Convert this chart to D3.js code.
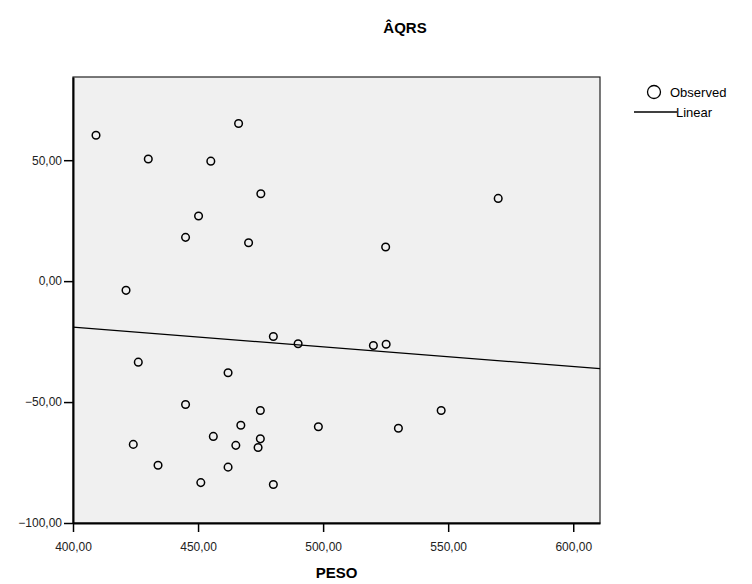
<!DOCTYPE html>
<html>
<head>
<meta charset="utf-8">
<script src="https://cdn.jsdelivr.net/npm/d3@7"></script>
<style>
  body { margin: 0; background: #fff; }
  text { font-family: "Liberation Sans", Arial, sans-serif; }
</style>
</head>
<body>
<div id="chart"></div>
<script>
"use strict";
let peso = [409.2, 466.2, 430.1, 455.1, 475.1, 450.2, 445.0, 470.2, 421.2,
    480.1, 490.0, 426.1, 462.0, 445.0, 474.9, 467.1, 498.1, 456.1, 474.9,
    424.1, 465.1, 474.0, 434.0, 462.0, 451.1, 480.1,
    570.0, 525.0, 520.1, 525.2, 547.2, 530.1];
let aqrs = [60.3, 65.2, 50.5, 49.6, 36.1, 26.9, 18.1, 15.9, -3.8,
    -22.9, -25.9, -33.5, -37.9, -51.0, -53.5, -59.6, -60.2, -64.2, -65.2,
    -67.5, -67.9, -68.8, -76.1, -76.9, -83.3, -84.1,
    34.2, 14.1, -26.6, -26.1, -53.5, -60.8];

// Linear fit endpoints
let fitX = [400, 610.7];
let fitY = [-19.0, -36.2];

let xTicks = [400, 450, 500, 550, 600];
let yTicks = [-100, -50, 0, 50];

let margin = { top: 77, right: 152, bottom: 61, left: 73 },
    width = 752 - margin.left - margin.right,
    height = 584 - margin.top - margin.bottom;

let svg = d3.select("#chart").append("svg")
    .attr("width", 752)
    .attr("height", 584);

let fmt = d => d3.format(".2f")(d).replace(".", ",");

let x = d3.scaleLinear().domain([400, 610.7]).range([0, width]);
let y = d3.scaleLinear().domain([-100, 84.4]).range([height, 0]);

// Title
svg.append("text")
    .attr("x", 405)
    .attr("y", 33)
    .attr("text-anchor", "middle")
    .style("font-weight", "bold")
    .style("font-size", "15px")
    .text("ÂQRS");

let g = svg.append("g")
    .attr("transform", "translate(" + margin.left + "," + margin.top + ")");

// plot background + frame
g.append("rect")
    .attr("width", width)
    .attr("height", height)
    .style("fill", "#f0f0f0")
    .style("stroke", "#222")
    .style("stroke-width", 1.2);

// Axes
let xAxis = g.append("g")
    .attr("transform", "translate(0," + height + ")")
    .call(d3.axisBottom(x).tickValues(xTicks).tickFormat(fmt).tickSize(9).tickSizeOuter(0));
let yAxis = g.append("g")
    .call(d3.axisLeft(y).tickValues(yTicks).tickFormat(fmt).tickSize(9).tickSizeOuter(0));

[xAxis, yAxis].forEach(a => {
    a.select(".domain").style("stroke", "#000").style("stroke-width", 2);
    a.selectAll(".tick line").style("stroke", "#000").style("stroke-width", 1.5);
    a.selectAll(".tick text")
        .style("font-size", "12px")
        .style("fill", "#222")
        .style("font-family", "'Liberation Sans', Arial, sans-serif");
});
xAxis.selectAll(".tick text").attr("dy", "1.3em");
yAxis.selectAll(".tick text").attr("x", -11);

// X axis label
svg.append("text")
    .attr("x", margin.left + width / 2)
    .attr("y", 578)
    .attr("text-anchor", "middle")
    .style("font-weight", "bold")
    .style("font-size", "15px")
    .text("PESO");

// Fit line
let line = d3.line().x(d => x(d[0])).y(d => y(d[1]));
g.append("path")
    .datum(fitX.map((v, i) => [v, fitY[i]]))
    .attr("d", line)
    .style("fill", "none")
    .style("stroke", "#000")
    .style("stroke-width", 1.3);

// Dots
g.append("g")
    .selectAll("circle")
    .data(peso.map((v, i) => ({ x: v, y: aqrs[i] })))
    .enter()
    .append("circle")
    .attr("cx", d => x(d.x))
    .attr("cy", d => y(d.y))
    .attr("r", 3.8)
    .style("fill", "none")
    .style("stroke", "#000")
    .style("stroke-width", 1.5);

// Legend
let legend = svg.append("g");
legend.append("circle")
    .attr("cx", 654)
    .attr("cy", 92)
    .attr("r", 6.5)
    .style("fill", "none")
    .style("stroke", "#000")
    .style("stroke-width", 1.3);
legend.append("text")
    .attr("x", 670)
    .attr("y", 97)
    .style("font-size", "13px")
    .text("Observed");
legend.append("line")
    .attr("x1", 634).attr("x2", 677)
    .attr("y1", 112).attr("y2", 112)
    .style("stroke", "#000")
    .style("stroke-width", 1.3);
legend.append("text")
    .attr("x", 676)
    .attr("y", 117)
    .style("font-size", "13px")
    .text("Linear");
</script>
</body>
</html>
